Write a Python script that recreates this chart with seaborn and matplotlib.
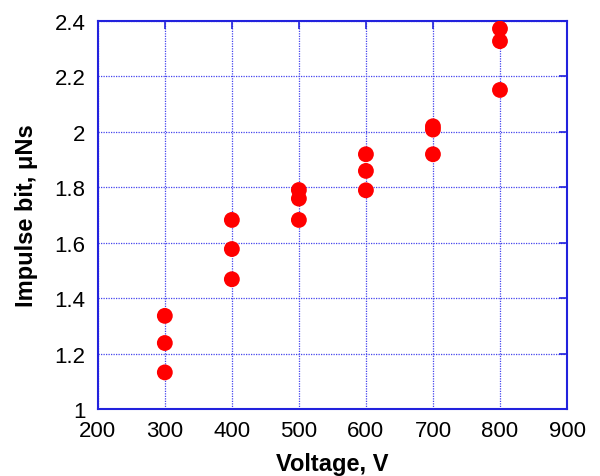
import matplotlib
matplotlib.use("Agg")
import matplotlib.pyplot as plt
import seaborn as sns
import pandas as pd

voltage = [300, 300, 300, 400, 400, 400, 500, 500, 500, 600, 600, 600, 700, 700, 700, 800, 800, 800]
impulse = [1.336, 1.238, 1.132, 1.682, 1.577, 1.468, 1.79, 1.759, 1.682, 1.919, 1.859, 1.789, 2.02, 2.008, 1.919, 2.372, 2.327, 2.151]
x_ticks = [200, 300, 400, 500, 600, 700, 800, 900]
y_ticks = [1, 1.2, 1.4, 1.6, 1.8, 2, 2.2, 2.4]
y_tick_labels = ["1", "1.2", "1.4", "1.6", "1.8", "2", "2.2", "2.4"]

df = pd.DataFrame({"Voltage": voltage, "Impulse": impulse})

sns.set_style("white")
plt.rcParams['font.family'] = ['Liberation Sans', 'DejaVu Sans']
plt.rcParams['text.color'] = 'black'
plt.rcParams['axes.labelcolor'] = 'black'

fig = plt.figure(figsize=(6, 4.77), dpi=100)
ax = fig.add_axes([0.163, 0.1405, 0.782, 0.8135])

blue = "#2222dd"
ax.grid(True, color="#4444ee", linestyle=(0, (1, 1)), linewidth=0.9)
ax.set_axisbelow(True)

sns.scatterplot(data=df, x="Voltage", y="Impulse", ax=ax, color="#ff0000",
                marker="o", s=130, edgecolor="none", zorder=3)

ax.set_xlim(200, 900)
ax.set_ylim(1, 2.4)
ax.set_xticks(x_ticks)
ax.set_yticks(y_ticks)
ax.set_yticklabels(y_tick_labels)
for sp in ax.spines.values():
    sp.set_color(blue)
    sp.set_linewidth(1.5)
    sp.set_visible(True)
ax.tick_params(direction="in", length=6, width=1.2, color=blue,
               top=True, right=True, labelsize=16, labelcolor="black")
ax.tick_params(axis="x", pad=8)
ax.tick_params(axis="y", pad=9)
ax.set_xlabel("Voltage, V", fontsize=17, fontweight="bold", labelpad=7.5, color="black")
ax.set_ylabel("Impulse bit, μNs", fontsize=17, fontweight="bold", labelpad=12, color="black")

fig.savefig("out.png", dpi=100)
